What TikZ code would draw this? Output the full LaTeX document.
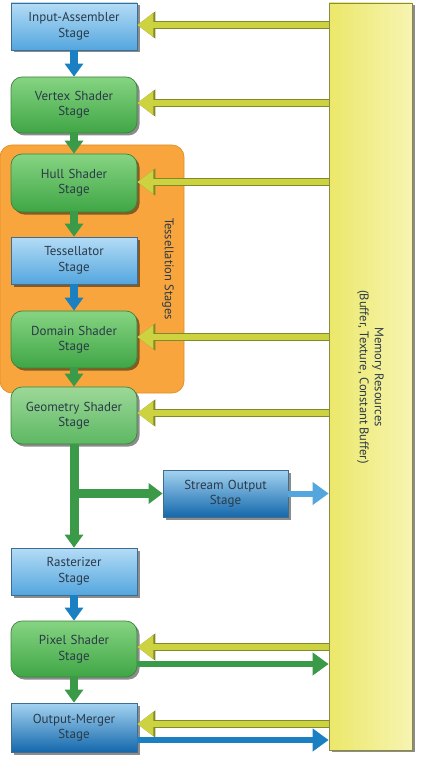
\documentclass[tikz,border=0pt]{standalone}
\usepackage{fontspec}
\setmainfont{PT Sans}
\usetikzlibrary{arrows.meta,shadows,calc}
\definecolor{txt}{HTML}{2B3A48}
\definecolor{blA}{HTML}{B4DCF6}
\definecolor{blB}{HTML}{54A6DE}
\definecolor{dbA}{HTML}{A4D3F1}
\definecolor{dbB}{HTML}{1468AC}
\definecolor{blLine}{HTML}{3D6E92}
\definecolor{grA}{HTML}{86D482}
\definecolor{grB}{HTML}{3FA645}
\definecolor{lgA}{HTML}{9CD898}
\definecolor{lgB}{HTML}{5DB863}
\definecolor{grLine}{HTML}{3C843E}
\definecolor{orng}{HTML}{F8A53E}
\definecolor{orLine}{HTML}{E38D22}
\definecolor{memA}{HTML}{EBE86A}
\definecolor{memB}{HTML}{F7F4B2}
\definecolor{memLine}{HTML}{8A8A45}
\definecolor{ylw}{HTML}{CDD240}
\definecolor{ylwD}{HTML}{7F8A28}
\definecolor{arBlue}{HTML}{1A80C2}
\definecolor{arGreen}{HTML}{3A9A48}
\begin{document}
\begin{tikzpicture}[x=1pt,y=-1pt,
  stage/.style={draw, line width=0.7pt, minimum width=126pt, text width=124pt,
    align=center, inner sep=0pt, text=txt,
    font=\fontsize{13}{15.5}\selectfont,
    drop shadow={shadow xshift=2.5pt, shadow yshift=-2.5pt, opacity=0.45, fill=black}},
  bluebox/.style={stage, rectangle, draw=blLine, top color=blA, bottom color=blB},
  darkbox/.style={stage, rectangle, draw=blLine, top color=dbA, bottom color=dbB},
  greenbox/.style={stage, rounded corners=11pt, draw=grLine, top color=grA, bottom color=grB},
  lightgreen/.style={stage, rounded corners=11pt, draw=grLine, top color=lgA, bottom color=lgB},
  yarrow/.style={line width=6pt, draw=ylw, -{Triangle[width=23pt,length=16pt]},
    preaction={draw=ylwD, line width=8pt, -{Triangle[width=26pt,length=18pt]}}},
  barrow/.style={line width=8pt, draw=arBlue, -{Triangle[width=18pt,length=13pt]}},
  garrow/.style={line width=8pt, draw=arGreen, -{Triangle[width=18pt,length=13pt]}},
  rblue/.style={line width=6pt, draw=arBlue, -{Triangle[width=22pt,length=16pt]}},
  rgreen/.style={line width=6pt, draw=arGreen, -{Triangle[width=22pt,length=16pt]}},
  rlblue/.style={line width=6pt, draw=blB, -{Triangle[width=22pt,length=16pt]}},
  vlabel/.style={text=txt, font=\fontsize{12.5}{15}\selectfont, align=center}
]
\useasboundingbox (0,0) rectangle (426,762);

% memory resources
\node[draw=memLine, line width=0.7pt, left color=memA, right color=memB,
  minimum width=83pt, minimum height=747pt, inner sep=0pt,
  drop shadow={shadow xshift=3pt, shadow yshift=-2pt, opacity=0.45, fill=black}]
  (mem) at (370.5,376.5) {};
\node[vlabel, rotate=-90] (memtxt) at (370.5,377) {Memory Resources\\(Buffer, Texture, Constant Buffer)};

% tessellation group
\node[draw=orLine, line width=0.7pt, fill=orng, rounded corners=12pt,
  minimum width=184pt, minimum height=248pt, inner sep=0pt] (tessgrp) at (92,269) {};
\node[vlabel, rotate=-90] (tesstxt) at (168,269) {Tessellation Stages};

% stages
\node[bluebox, minimum height=47pt] (ia) at (74,26.5) {Input-Assembler\\Stage};
\node[greenbox, minimum height=56pt] (vs) at (74,105) {Vertex Shader\\Stage};
\node[greenbox, minimum height=58pt] (hs) at (74,183) {Hull Shader\\Stage};
\node[bluebox, minimum height=47pt] (ts) at (74,260.5) {Tessellator\\Stage};
\node[greenbox, minimum height=57pt] (ds) at (74,339.5) {Domain Shader\\Stage};
\node[lightgreen, minimum height=57pt] (gs) at (74,415.5) {Geometry Shader\\Stage};
\node[darkbox, minimum width=125pt, text width=123pt, minimum height=47pt] (so) at (225.5,493.5) {Stream Output\\Stage};
\node[bluebox, minimum height=47pt] (rs) at (74,571.5) {Rasterizer\\Stage};
\node[greenbox, minimum height=56pt] (ps) at (74,649) {Pixel Shader\\Stage};
\node[darkbox, minimum height=49pt] (om) at (74,727.5) {Output-Merger\\Stage};

% vertical flow
\draw[barrow] (ia.south) -- (vs.north);
\draw[garrow] (vs.south) -- (hs.north);
\draw[garrow] (hs.south) -- (ts.north);
\draw[barrow] (ts.south) -- (ds.north);
\draw[garrow] (ds.south) -- (gs.north);
\draw[garrow, line width=9pt] (gs.south) -- (rs.north);
\draw[garrow, line width=9pt, -{Triangle[width=20pt,length=14pt]}] (gs.south |- so.west) -- (so.west);
\draw[barrow] (rs.south) -- (ps.north);
\draw[garrow] (ps.south) -- (om.north);

% memory reads
\draw[yarrow] ([yshift=1.5pt]mem.west |- ia.east) -- ([yshift=1.5pt]ia.east);
\draw[yarrow] ([yshift=2pt]mem.west |- vs.east) -- ([yshift=2pt]vs.east);
\draw[yarrow] ([yshift=1pt]mem.west |- hs.east) -- ([yshift=1pt]hs.east);
\draw[yarrow] ([yshift=2.5pt]mem.west |- ds.east) -- ([yshift=2.5pt]ds.east);
\draw[yarrow] ([yshift=2.5pt]mem.west |- gs.east) -- ([yshift=2.5pt]gs.east);
\draw[yarrow] ([yshift=2pt]mem.west |- ps.east) -- ([yshift=2pt]ps.east);
\draw[yarrow] ([yshift=3.5pt]mem.west |- om.east) -- ([yshift=3.5pt]om.east);

% memory writes
\draw[rlblue] (so.east) -- (mem.west |- so.east);
\draw[rgreen] ([yshift=-15pt]ps.east) -- ([yshift=-15pt]mem.west |- ps.east);
\draw[rblue] ([yshift=-12.5pt]om.east) -- ([yshift=-12.5pt]mem.west |- om.east);
\end{tikzpicture}
\end{document}
